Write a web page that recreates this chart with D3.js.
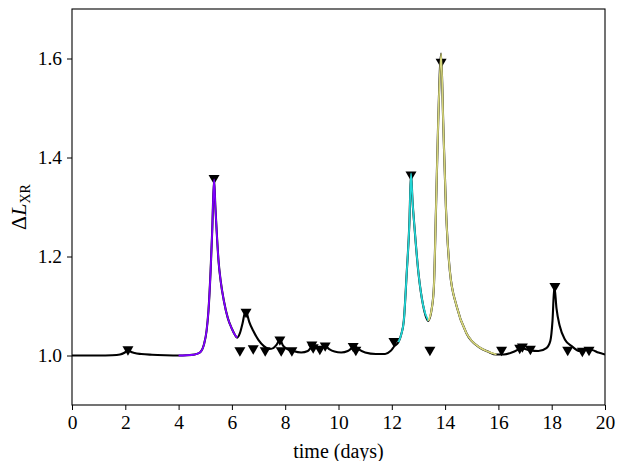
<!DOCTYPE html>
<html>
<head>
<meta charset="utf-8">
<script src="https://cdn.jsdelivr.net/npm/d3@7"></script>
<style>
  html, body { margin: 0; padding: 0; background: #fff; }
  svg { display: block; }
  text { font-family: "Liberation Serif", "Times New Roman", serif; fill: #000; }
</style>
</head>
<body>
<svg id="chart" width="618" height="461"></svg>
<script>
// ---- data ----
const curveT = [0, 1.0, 1.5, 1.8, 1.95, 2.05, 2.12, 2.2, 2.35, 2.6, 3.0, 3.5, 4.0,
  4.3, 4.6, 4.8, 4.95, 5.05, 5.12, 5.2, 5.26, 5.33, 5.38, 5.43, 5.5, 5.58, 5.7, 5.85, 6.0, 6.1, 6.2,
  6.3, 6.4, 6.5, 6.55, 6.65, 6.8, 7.0, 7.2, 7.4, 7.55, 7.68, 7.8, 7.92, 8.05, 8.3, 8.6, 8.85,
  9.0, 9.1, 9.25, 9.4, 9.5, 9.65, 9.85, 10.1, 10.35, 10.5, 10.6, 10.75, 11.0, 11.4, 11.75, 11.95,
  12.1, 12.25, 12.35, 12.45, 12.56, 12.66, 12.72, 12.78, 12.85, 13.0, 13.18, 13.37,
  13.5, 13.58, 13.66, 13.74, 13.85, 13.93, 14.03, 14.18, 14.43, 14.8, 15.3, 15.6, 15.93,
  16.2, 16.5, 16.7, 16.85, 17.0, 17.2, 17.5, 17.8, 17.95, 18.03, 18.1, 18.18, 18.3, 18.5, 18.75,
  19.05, 19.3, 19.5, 19.75, 20.0];
const curveV = [1.000, 1.000, 1.0006, 1.002, 1.005, 1.009, 1.012, 1.008, 1.005, 1.003, 1.0015, 1.0005, 1.000,
  1.0005, 1.002, 1.006, 1.022, 1.05, 1.09, 1.17, 1.25, 1.356, 1.30, 1.25, 1.19, 1.15, 1.11, 1.075, 1.054, 1.043, 1.036,
  1.045, 1.065, 1.088, 1.086, 1.068, 1.05, 1.031, 1.019, 1.013, 1.015, 1.022, 1.032, 1.02, 1.014, 1.009, 1.006, 1.009,
  1.017, 1.016, 1.014, 1.016, 1.019, 1.013, 1.008, 1.006, 1.009, 1.015, 1.019, 1.013, 1.006, 1.003, 1.003, 1.009,
  1.019, 1.027, 1.042, 1.07, 1.167, 1.267, 1.368, 1.31, 1.26, 1.167, 1.10, 1.07,
  1.095, 1.14, 1.30, 1.47, 1.61, 1.47, 1.30, 1.17, 1.10, 1.045, 1.016, 1.008, 1.002,
  1.002, 1.006, 1.011, 1.016, 1.013, 1.010, 1.009, 1.015, 1.03, 1.07, 1.14, 1.095, 1.06, 1.032, 1.019,
  1.009, 1.011, 1.011, 1.006, 1.002];

// highlighted stretches of the curve
const segStart = [4.0, 12.25, 13.37];
const segEnd   = [6.2, 13.37, 15.93];
const segColor = ["#7f00ff", "#22d6d6", "#d6d67c"];

// triangle markers (peak times)
const markerT = [2.1, 5.33, 6.3, 6.53, 6.8, 7.25, 7.8, 7.85, 8.25, 9.0, 9.05, 9.3, 9.5, 10.55, 10.65,
  12.08, 12.72, 13.43, 13.85, 16.12, 16.8, 16.9, 17.2, 18.12, 18.6, 19.15, 19.4];
const markerV = [1.009, 1.355, 1.007, 1.085, 1.011, 1.007, 1.029, 1.007, 1.007, 1.019, 1.013, 1.01, 1.017, 1.016, 1.008,
  1.026, 1.362, 1.008, 1.59, 1.008, 1.012, 1.015, 1.01, 1.137, 1.008, 1.006, 1.008];

const xTicks = [0, 2, 4, 6, 8, 10, 12, 14, 16, 18, 20];
const yTicks = [1.0, 1.2, 1.4, 1.6];
const xDomain = [0, 20];
const yDomain = [0.9, 1.7];

(function () {
  const svg = d3.select("#chart");
  const mL = 72, mR = 605, mT = 9, mB = 405;
  const x = d3.scaleLinear().domain(xDomain).range([mL, mR]);
  const y = d3.scaleLinear().domain(yDomain).range([mB, mT]);

  const pts = curveT.map((t, i) => [t, curveV[i]]);
  const line = d3.line().x(d => x(d[0])).y(d => y(d[1])).curve(d3.curveMonotoneX);

  svg.append("clipPath").attr("id", "plotclip")
    .append("rect").attr("x", mL).attr("y", mT).attr("width", mR - mL).attr("height", mB - mT);

  const plot = svg.append("g").attr("clip-path", "url(#plotclip)");

  plot.append("path").datum(pts).attr("d", line)
    .attr("fill", "none").attr("stroke", "#000").attr("stroke-width", 2.1)
    .attr("stroke-linejoin", "round");

  const mk = markerT.map((t, i) => [t, markerV[i]]);
  plot.selectAll("path.mk").data(mk).join("path").attr("class", "mk")
    .attr("d", d => {
      const cx = x(d[0]), cy = y(d[1]);
      return `M${cx - 5.5},${cy - 4.7}L${cx + 5.5},${cy - 4.7}L${cx},${cy + 4.7}Z`;
    })
    .attr("fill", "#000");

  segStart.forEach((s, i) => {
    const sub = pts.filter(p => p[0] >= s - 1e-9 && p[0] <= segEnd[i] + 1e-9);
    plot.append("path").datum(sub).attr("d", line)
      .attr("fill", "none").attr("stroke", segColor[i]).attr("stroke-width", 1.8)
      .attr("stroke-linejoin", "round");
  });

  const xAxis = d3.axisBottom(x).tickValues(xTicks).tickFormat(d3.format("d")).tickSize(5).tickPadding(5);
  const yAxis = d3.axisLeft(y).tickValues(yTicks).tickFormat(d3.format(".1f")).tickSize(5).tickPadding(5);

  const gx = svg.append("g").attr("transform", `translate(0,${mB})`).call(xAxis);
  const gy = svg.append("g").attr("transform", `translate(${mL},0)`).call(yAxis);
  [gx, gy].forEach(g => {
    g.select(".domain").remove();
    g.selectAll("line").attr("stroke", "#000").attr("stroke-width", 1);
    g.selectAll("text").attr("font-family", "Liberation Serif, serif").attr("font-size", 19.5).attr("fill", "#222");
  });

  svg.append("rect").attr("x", mL).attr("y", mT).attr("width", mR - mL).attr("height", mB - mT)
    .attr("fill", "none").attr("stroke", "#000").attr("stroke-width", 1.1);

  svg.append("text").attr("x", (mL + mR) / 2).attr("y", 458).attr("text-anchor", "middle")
    .attr("font-size", 20).text("time (days)");

  const yl = svg.append("text").attr("transform", `translate(26,${(mT + mB) / 2}) rotate(-90)`)
    .attr("text-anchor", "middle").attr("font-size", 22);
  yl.append("tspan").text("Δ");
  yl.append("tspan").attr("font-style", "italic").text("L");
  yl.append("tspan").attr("font-size", 14).attr("dy", 4).text("XR");
})();
</script>
</body>
</html>
